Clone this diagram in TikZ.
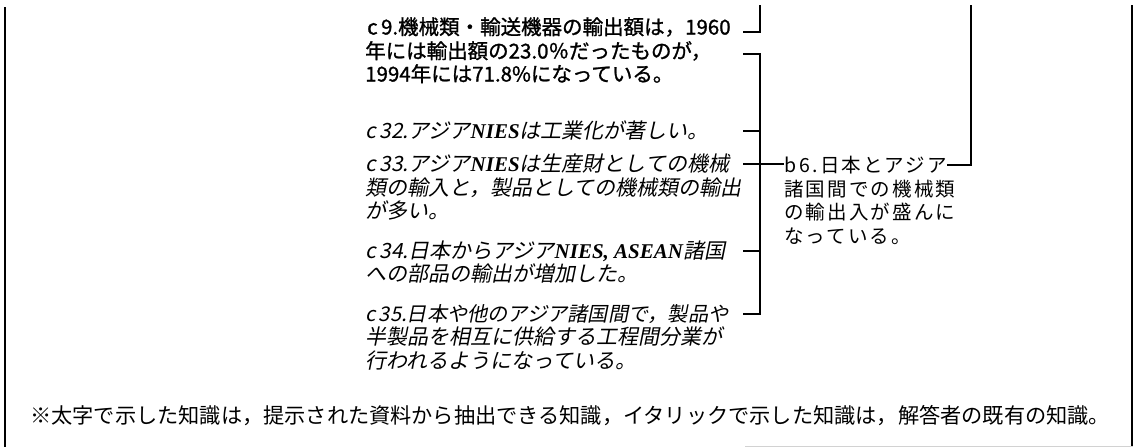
\documentclass[tikz,border=0pt]{standalone}
\usepackage{fontspec}
\newfontfamily\jpgothic{Noto Sans CJK JP}
\newfontfamily\jpgothicbold{Noto Sans CJK JP}[FakeBold=1.2]
\newfontfamily\jpslant{Noto Sans CJK JP}[FakeSlant=0.2]
\newfontfamily\jpspaced{Noto Sans CJK JP}[LetterSpace=11]
\newfontfamily\latserif{Liberation Serif}
\newcommand\LatIt[1]{{\latserif\bfseries\itshape #1}}
\begin{document}
\begin{tikzpicture}[x=1pt,y=-1pt,
  rule/.style={line width=1.2pt, black},
  txt/.style={anchor=west, inner sep=0pt, text height=18pt, text depth=3pt},
  boldline/.style={txt, font=\jpgothicbold\fontsize{20.5}{23}\selectfont},
  itline/.style={txt, font=\jpslant\fontsize{21}{23}\selectfont},
  bsix/.style={txt, font=\jpspaced\fontsize{19.5}{23}\selectfont},
  note/.style={txt, font=\jpgothic\fontsize{21.2}{24}\selectfont}]
\useasboundingbox (0,0) rectangle (1133,447);
% frame
\draw[rule] (5,7) -- (5,447);
\draw[rule] (1132,5) -- (1132,447);
\draw[gray!35, line width=1pt] (745,446) -- (1133,446);
% c9 (bold)
\node[boldline] (c9a) at (367,27) {c\,9.機械類・輸送機器の輸出額は，1960};
\node[boldline] (c9b) at (365,51) {年には輸出額の23.0％だったものが，};
\node[boldline] (c9c) at (365,74) {1994年には71.8\%になっている。};
% c32
\node[itline] (c32) at (365,131) {c\,32.アジア\LatIt{NIES}は工業化が著しい。};
% c33
\node[itline] (c33a) at (365,164) {c\,33.アジア\LatIt{NIES}は生産財としての機械};
\node[itline] (c33b) at (365,188) {類の輸入と，製品としての機械類の輸出};
\node[itline] (c33c) at (365,211) {が多い。};
% c34
\node[itline] (c34a) at (365,251) {c\,34.日本からアジア\LatIt{NIES, ASEAN}諸国};
\node[itline] (c34b) at (365,274) {への部品の輸出が増加した。};
% c35
\node[itline, font=\jpslant\fontsize{20.2}{23}\selectfont] (c35a) at (365,314) {c\,35.日本や他のアジア諸国間で，製品や};
\node[itline] (c35b) at (365,337) {半製品を相互に供給する工程間分業が};
\node[itline] (c35c) at (365,361) {行われるようになっている。};
% b6
\node[bsix] (b6a) at (784,165) {b\,6.日本とアジア};
\node[bsix] (b6b) at (784,189) {諸国間での機械類};
\node[bsix] (b6c) at (784,212) {の輸出入が盛んに};
\node[bsix] (b6d) at (784,236) {なっている。};
% footnote
\node[note] (fn) at (30,416) {※太字で示した知識は，提示された資料から抽出できる知識，イタリックで示した知識は，解答者の既有の知識。};
% connectors
\coordinate (t9) at (743,32);
\coordinate (u9) at (760,5);
\draw[rule] (t9) -| (u9);
\coordinate (k0) at (743,54);
\coordinate (s0) at (760,54);
\coordinate (k1) at (743,131);
\coordinate (k2) at (743,164);
\coordinate (k3) at (743,251);
\coordinate (k4) at (743,314);
\coordinate (s4) at (760,314);
\draw[rule] (k0) -- (s0) -- (s4) -- (k4);
\draw[rule] (k1) -- (k1 -| s0);
\draw[rule] (k3) -- (k3 -| s0);
\draw[rule] (k2) -- (k2 -| b6a.west);
\coordinate (ub) at (971,5);
\draw[rule] (b6a.east) -- (b6a.east -| ub) -- (ub);
\end{tikzpicture}
\end{document}
